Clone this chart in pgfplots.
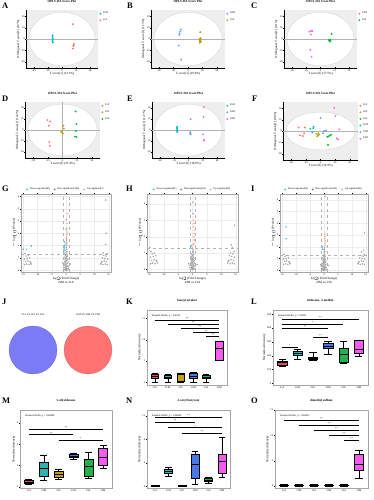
\documentclass[border=0pt]{standalone}
\usepackage{fontspec}
\setmainfont{Liberation Serif}
\usepackage{pgfplots}
\pgfplotsset{compat=1.18}
\usepgfplotslibrary{statistics}

\definecolor{cR}{HTML}{F8766D}
\definecolor{cG}{HTML}{B79F00}
\definecolor{cGr}{HTML}{00BA38}
\definecolor{cC}{HTML}{00BFC4}
\definecolor{cB}{HTML}{619CFF}
\definecolor{cM}{HTML}{F564E3}
\definecolor{bR}{HTML}{E34A5F}
\definecolor{bC}{HTML}{2CB3B0}
\definecolor{bG}{HTML}{C2A100}
\definecolor{bB}{HTML}{4A78E8}
\definecolor{bGr}{HTML}{22B24C}
\definecolor{bM}{HTML}{F45BEF}
\definecolor{vDown}{HTML}{4FB9E3}
\definecolor{vUp}{HTML}{F4A58A}
\definecolor{vB}{HTML}{7B7BF5}
\definecolor{vR}{HTML}{FF7373}

\newcommand{\tf}{\fontsize{2.6}{3}\selectfont}
\newcommand{\lf}{\fontsize{3.2}{3.8}\selectfont}
\newcommand{\pl}{\fontsize{8.5}{9}\selectfont\bfseries}

\pgfplotsset{
 every axis/.append style={scale only axis, anchor=north west,
   /pgf/number format/assume math mode=true,
   tick label style={font=\tf, inner sep=0.6pt},
   label style={font=\lf, inner sep=0.6pt},
   title style={font=\lf\bfseries, inner sep=1.2pt},
   tick align=outside, major tick length=1.2pt,
   every tick/.style={black, line width=0.25pt},
   line width=0.3pt},
 score/.style={xmin=-1.15,xmax=1.15,ymin=-1.15,ymax=1.15,
   axis background/.style={fill=gray!13},
   axis lines=left, axis line style={-, black},
   xtick={-0.9,-0.45,0,0.45,0.9}, ytick={-0.9,-0.45,0,0.45,0.9},
   title={OPLS-DA Score Plot},
   legend style={at={(1.02,1)}, anchor=north west, draw=none, fill=none, font=\tf, inner sep=0pt, row sep=-0.6pt},
   legend cell align=left},
 pts/.style={only marks, mark=*, mark size=0.75pt, color=#1},
 volc/.style={xmin=-15.8,xmax=15.8, ymin=-0.15,
   xtick={-15,-10,-5,0,5,10,15},
   grid=major, grid style={gray!15, line width=0.2pt},
   axis line style={gray!70},
   xlabel style={align=center},
   ylabel={$-\log_{10}$(P value)},
   legend columns=3,
   legend style={at={(0.5,1.01)}, anchor=south, draw=none, fill=none, font=\tf, inner sep=0pt,
     /tikz/every even column/.append style={column sep=2pt}}},
 vp/.style={only marks, mark=*, mark size=0.6pt, color=#1, forget plot},
 boxax/.style={xmin=0.4,xmax=6.6, xtick={1,...,6},
   xticklabels={21A,21M,22A,22M,23A,23M},
   xtick pos=bottom, ytick pos=left,
   axis line style={gray!70},
   ylabel={Normalized intensity},
   boxplot/draw direction=y,
   boxplot/every median/.style={line width=0.7pt}},
 bx/.style={draw=black, line width=0.3pt, fill=#1},
 sig/.style={black, line width=0.25pt},
}

\begin{document}
\begin{tikzpicture}[x=1bp,y=1bp]
\useasboundingbox (0,0) rectangle (373,-500);

% ---------------- Row 1 ----------------
\node[anchor=north west, font=\pl, inner sep=0pt] at (2,-3) {A};
\begin{axis}[score, at={(26bp,-10bp)}, width=72bp, height=58bp,
  xlabel={T score[1] (13.5\%)}, ylabel={Orthogonal T score[1] (8.7\%)},
  xticklabels={-40,-20,0,20,40}, yticklabels={-20,-10,0,10,20}]
\draw[gray!35, fill=white, line width=0.3pt] (axis cs:0,0) ellipse [x radius=1.06, y radius=1.06];
\draw[gray!60, line width=0.25pt] (axis cs:-1.15,0) -- (axis cs:1.15,0);
\addplot[pts=cC] coordinates {(-0.30,0.15)(-0.31,0.08)(-0.29,0.02)(-0.30,-0.04)(-0.31,-0.09)(-0.29,-0.14)};
\addlegendentry{21M}
\addplot[pts=cR] coordinates {(0.35,0.59)(0.38,-0.2)(0.36,-0.28)(0.35,-0.38)(0.37,-0.25)};
\addlegendentry{21A}
\end{axis}

\node[anchor=north west, font=\pl, inner sep=0pt] at (127,-3) {B};
\begin{axis}[score, at={(151bp,-10bp)}, width=74bp, height=58bp,
  xlabel={T score[1] (19.9\%)}, ylabel={Orthogonal T score[1] (11.3\%)},
  xticklabels={-60,-30,0,30,60}, yticklabels={-20,-10,0,10,20}]
\draw[gray!35, fill=white, line width=0.3pt] (axis cs:0,0) ellipse [x radius=1.06, y radius=1.06];
\draw[gray!60, line width=0.25pt] (axis cs:-1.15,0) -- (axis cs:1.15,0);
\addplot[pts=cB] coordinates {(-0.22,0.38)(-0.24,0.30)(-0.26,0.22)(-0.27,0.16)(-0.29,-0.26)(-0.21,-0.82)};
\addlegendentry{22M}
\addplot[pts=cG] coordinates {(0.38,0.27)(0.36,0)(0.38,-0.05)(0.40,-0.1)(0.37,-0.15)(0.39,0.03)(0.36,-0.08)};
\addlegendentry{22A}
\end{axis}

\node[anchor=north west, font=\pl, inner sep=0pt] at (251,-3) {C};
\begin{axis}[score, at={(284bp,-10bp)}, width=73bp, height=58bp,
  xlabel={T score[1] (17.5\%)}, ylabel={Orthogonal T score[1] (9.1\%)},
  xticklabels={-50,-25,0,25,50}, yticklabels={-20,-10,0,10,20}]
\draw[gray!35, fill=white, line width=0.3pt] (axis cs:0,0) ellipse [x radius=1.06, y radius=1.06];
\draw[gray!60, line width=0.25pt] (axis cs:-1.15,0) -- (axis cs:1.15,0);
\addplot[pts=cM] coordinates {(-0.35,0.29)(-0.26,0.31)(-0.30,0.32)(-0.30,0.17)(-0.32,-0.43)(-0.28,-0.71)};
\addlegendentry{23M}
\addplot[pts=cGr] coordinates {(0.35,0.2)(0.26,-0.04)(0.29,-0.1)(0.32,-0.08)(0.28,-0.06)(0.30,-0.02)};
\addlegendentry{23A}
\end{axis}

% ---------------- Row 2 ----------------
\node[anchor=north west, font=\pl, inner sep=0pt] at (2,-96) {D};
\begin{axis}[score, at={(25bp,-102bp)}, width=75bp, height=56bp,
  xlabel={T score[1] (21.4\%)}, ylabel={Orthogonal T score[1] (10.2\%)},
  xticklabels={-50,-25,0,25,50}, yticklabels={-30,-15,0,15,30}]
\draw[gray!35, fill=white, line width=0.3pt] (axis cs:0,0) ellipse [x radius=1.06, y radius=1.06];
\draw[gray!60, line width=0.25pt] (axis cs:-1.15,0) -- (axis cs:1.15,0);
\draw[gray!60, line width=0.25pt] (axis cs:0,-1.15) -- (axis cs:0,1.15);
\addplot[pts=cR] coordinates {(-0.46,0.41)(-0.38,0.35)(-0.42,0.18)(-0.4,-0.49)(-0.39,-0.65)};
\addlegendentry{21A}
\addplot[pts=cG] coordinates {(0.03,0.18)(0.04,0.06)(-0.02,-0.06)(0.01,-0.14)(-0.04,-0.09)};
\addlegendentry{22A}
\addplot[pts=cGr] coordinates {(0.4,0.76)(0.43,0.24)(0.41,-0.04)(0.38,-0.27)(0.43,-0.29)};
\addlegendentry{23A}
\end{axis}

\node[anchor=north west, font=\pl, inner sep=0pt] at (127,-96) {E};
\begin{axis}[score, at={(152bp,-102bp)}, width=73bp, height=56bp,
  xlabel={T score[1] (18.6\%)}, ylabel={Orthogonal T score[1] (12.7\%)},
  xticklabels={-60,-30,0,30,60}, yticklabels={-30,-15,0,15,30}]
\draw[gray!35, fill=white, line width=0.3pt] (axis cs:0,0) ellipse [x radius=1.06, y radius=1.06];
\draw[gray!60, line width=0.25pt] (axis cs:-1.15,0) -- (axis cs:1.15,0);
\addplot[pts=cC] coordinates {(-0.36,0.13)(-0.36,0.1)(-0.36,0.05)(-0.36,0)(-0.36,-0.05)(-0.35,-0.08)};
\addlegendentry{21M}
\addplot[pts=cB] coordinates {(0.07,0.45)(0.06,-0.09)(0.07,-0.18)(0.05,-0.13)};
\addlegendentry{22M}
\addplot[pts=cM] coordinates {(0.48,0.94)(0.47,0.53)(0.46,-0.18)(0.48,-0.41)(0.49,-0.44)};
\addlegendentry{23M}
\end{axis}

\node[anchor=north west, font=\pl, inner sep=0pt] at (252,-96) {F};
\begin{axis}[score, at={(283bp,-102bp)}, width=75bp, height=58bp,
  xlabel={T score[1] (14.9\%)}, ylabel={Orthogonal T score[1] (9.6\%)},
  xticklabels={-60,-30,0,30,60}, yticklabels={-30,-15,0,15,30}]
\draw[gray!35, fill=white, line width=0.3pt] (axis cs:0,0) ellipse [x radius=1.06, y radius=0.75];
\draw[gray!60, line width=0.25pt] (axis cs:-1.15,0) -- (axis cs:1.15,0);
\addplot[pts=cR] coordinates {(-0.67,0.14)(-0.48,0.14)(-0.5,-0.09)(-0.54,-0.2)(-0.63,-0.17)};
\addlegendentry{21A}
\addplot[pts=cG] coordinates {(-0.13,-0.11)(-0.08,-0.17)(-0.04,-0.14)(-0.1,-0.21)(-0.07,-0.09)};
\addlegendentry{22A}
\addplot[pts=cGr] coordinates {(0.21,-0.23)(0.25,-0.21)(0.29,-0.17)(0.33,-0.14)(0.23,-0.55)};
\addlegendentry{23A}
\addplot[pts=cC] coordinates {(-0.31,0.09)(-0.23,0.11)(-0.25,-0.06)(-0.21,0.17)};
\addlegendentry{21M}
\addplot[pts=cB] coordinates {(0.11,0)(0.17,0.02)(0.08,-0.09)(0,0.52)};
\addlegendentry{22M}
\addplot[pts=cM] coordinates {(0.42,0.92)(0.46,0.6)(0.58,0.06)(0.5,-0.29)(0.54,-0.34)};
\addlegendentry{23M}
\end{axis}

% ---------------- Row 3: volcano ----------------
\node[anchor=north west, font=\pl, inner sep=0pt] at (2,-186) {G};
\begin{axis}[volc, at={(21bp,-194bp)}, width=90bp, height=78bp, ymax=6.2, ytick={0,1,...,6},
  xlabel={log$_2$(Fold Change)\\21M vs 21A}]
\addlegendimage{only marks, mark=*, mark size=0.8pt, vDown}\addlegendentry{Down-regulated(8)}
\addlegendimage{only marks, mark=*, mark size=0.8pt, gray}\addlegendentry{Non-significant(596)}
\addlegendimage{only marks, mark=*, mark size=0.8pt, vUp}\addlegendentry{Up-regulated(7)}
\draw[gray!60, dashed, line width=0.25pt] (axis cs:-15.8,1.3) -- (axis cs:15.8,1.3);
\draw[gray!60, dashed, line width=0.25pt] (axis cs:-1,-0.15) -- (axis cs:-1,6.2);
\draw[gray!60, dashed, line width=0.25pt] (axis cs:1,-0.15) -- (axis cs:1,6.2);
\addplot[vp=gray!70] coordinates {(0.1,0.05)(-0.2,0.1)(0.3,0.15)(-0.4,0.2)(0.2,0.25)(-0.1,0.3)(0.5,0.35)(-0.3,0.4)(0.1,0.45)(-0.6,0.5)(0.4,0.55)(-0.2,0.6)(0.7,0.65)(-0.5,0.7)(0.0,0.75)(0.3,0.8)(-0.3,0.85)(0.6,0.9)(-0.1,0.95)(0.2,1.0)(-0.4,1.05)(0.1,1.1)(0.5,1.15)(-0.2,1.2)(0.3,1.3)(-0.5,1.35)(0.0,1.45)(0.4,1.5)(-0.3,1.6)(0.2,1.7)(0.1,1.85)(0.3,2.0)(0.0,2.2)(0.2,2.4)(0.1,2.6)(0.2,2.9)(0.0,3.3)(0.1,4.1)(0.8,0.3)(-0.8,0.4)(0.9,0.1)(-0.9,0.2)(1.5,0.5)(-1.2,0.6)(0.0,0.0)(0.4,0.02)(-0.5,0.05)
 (-14.5,0.45)(-13.8,0.5)(-13.0,0.45)(-12.2,0.5)(-14.2,0.7)(-13.4,0.75)(-12.6,0.7)(-14.6,0.9)(-13.6,0.95)(-12.8,1.0)(-14.0,1.15)(-13.2,1.2)(-14.4,1.35)(-12.4,0.6)(-15,1.7)
 (14.5,0.45)(13.8,0.5)(13.0,0.45)(12.2,0.5)(14.2,0.7)(13.4,0.75)(12.6,0.7)(14.6,0.9)(13.6,0.95)(12.8,1.0)(14.0,1.15)(13.2,1.2)(14.4,1.35)(12.4,0.6)(13.9,5.7)(14.1,3.0)(13.9,2.1)(13,1.4)};
\addplot[vp=vDown] coordinates {(-12.2,1.97)(-13.9,1.7)(-0.6,1.8)(-0.7,1.65)(-0.8,1.55)(-0.4,2.05)(-0.5,2.3)(-0.6,1.95)};
\addplot[vp=vUp] coordinates {(0.3,3.4)(0.5,3.1)(0.3,2.7)(0.4,3.8)(0.2,2.5)(0.5,4.6)(0.3,2.2)};
\end{axis}

\node[anchor=north west, font=\pl, inner sep=0pt] at (126,-186) {H};
\begin{axis}[volc, at={(147bp,-194bp)}, width=91bp, height=78bp, ymax=4.6, ytick={0,1,...,4},
  xlabel={log$_2$(Fold Change)\\22M vs 22A}]
\addlegendimage{only marks, mark=*, mark size=0.8pt, vDown}\addlegendentry{Down-regulated(2)}
\addlegendimage{only marks, mark=*, mark size=0.8pt, gray}\addlegendentry{Non-significant(601)}
\addlegendimage{only marks, mark=*, mark size=0.8pt, vUp}\addlegendentry{Up-regulated(9)}
\draw[gray!60, dashed, line width=0.25pt] (axis cs:-15.8,1.3) -- (axis cs:15.8,1.3);
\draw[gray!60, dashed, line width=0.25pt] (axis cs:-1,-0.15) -- (axis cs:-1,4.6);
\draw[gray!60, dashed, line width=0.25pt] (axis cs:1,-0.15) -- (axis cs:1,4.6);
\addplot[vp=gray!70] coordinates {(0.1,0.03)(-0.2,0.06)(0.3,0.09)(-0.4,0.12)(0.2,0.15)(-0.1,0.18)(0.5,0.21)(-0.3,0.24)(0.1,0.27)(-0.6,0.3)(0.4,0.33)(-0.2,0.36)(0.7,0.39)(-0.5,0.42)(0.0,0.45)(0.3,0.48)(-0.3,0.51)(0.6,0.54)(-0.1,0.57)(0.2,0.6)(-0.4,0.63)(0.1,0.66)(0.5,0.69)(-0.2,0.72)(0.3,0.78)(-0.5,0.81)(0.0,0.87)(0.4,0.9)(-0.3,0.96)(0.2,1.02)(0.1,1.1)(0.3,1.2)(0.0,1.3)(0.8,0.2)(-0.8,0.25)(0.9,0.06)(-0.9,0.12)(1.6,0.3)(-1.3,0.35)(0.0,0.0)(0.4,0.01)(-0.5,0.03)(0.2,4.1)(0.2,3.4)
 (-14.5,0.35)(-13.8,0.4)(-13.0,0.35)(-12.2,0.4)(-14.2,0.55)(-13.4,0.6)(-12.6,0.55)(-14.6,0.75)(-13.6,0.8)(-12.8,0.85)(-14.0,0.95)(-13.2,1.0)(-14.4,1.1)(-12.4,0.5)(-14.8,1.35)
 (14.5,0.35)(13.8,0.4)(13.0,0.35)(12.2,0.4)(14.2,0.55)(13.4,0.6)(12.6,0.55)(14.6,0.75)(13.6,0.8)(12.8,0.85)(14.0,0.95)(13.2,1.0)(14.4,1.1)(12.4,0.5)(14.6,2.7)(13.5,1.5)(13.8,1.35)};
\addplot[vp=vDown] coordinates {(-0.4,1.45)(-0.6,1.38)};
\addplot[vp=vUp] coordinates {(0.4,3.0)(0.5,2.8)(0.4,2.6)(0.6,2.4)(0.5,2.2)(0.4,2.0)(0.6,1.8)(0.5,1.6)(0.3,1.5)};
\end{axis}

\node[anchor=north west, font=\pl, inner sep=0pt] at (251,-186) {I};
\begin{axis}[volc, at={(280bp,-194bp)}, width=88bp, height=78bp, ymax=6.5, ytick={0,1,...,6},
  xlabel={log$_2$(Fold Change)\\23M vs 23A}]
\addlegendimage{only marks, mark=*, mark size=0.8pt, vDown}\addlegendentry{Down-regulated(4)}
\addlegendimage{only marks, mark=*, mark size=0.8pt, gray}\addlegendentry{Non-significant(601)}
\addlegendimage{only marks, mark=*, mark size=0.8pt, vUp}\addlegendentry{Up-regulated(6)}
\draw[gray!60, dashed, line width=0.25pt] (axis cs:-15.8,1.3) -- (axis cs:15.8,1.3);
\draw[gray!60, dashed, line width=0.25pt] (axis cs:-1,-0.15) -- (axis cs:-1,6.5);
\draw[gray!60, dashed, line width=0.25pt] (axis cs:1,-0.15) -- (axis cs:1,6.5);
\addplot[vp=gray!70] coordinates {(0.1,0.04)(-0.2,0.08)(0.3,0.12)(-0.4,0.16)(0.2,0.2)(-0.1,0.24)(0.5,0.28)(-0.3,0.32)(0.1,0.36)(-0.6,0.4)(0.4,0.44)(-0.2,0.48)(0.7,0.52)(-0.5,0.56)(0.0,0.6)(0.3,0.64)(-0.3,0.68)(0.6,0.72)(-0.1,0.76)(0.2,0.8)(-0.4,0.84)(0.1,0.88)(0.5,0.92)(-0.2,0.96)(0.3,1.04)(-0.5,1.08)(0.0,1.16)(0.4,1.2)(-0.3,1.28)(0.2,1.36)(0.1,1.5)(0.3,1.6)(0.0,1.75)(0.2,1.9)(0.8,0.25)(-0.8,0.3)(0.9,0.08)(-0.9,0.16)(1.5,0.4)(-1.2,0.45)(0.0,0.0)(0.4,0.02)(-0.5,0.04)(0.4,6.3)
 (-14.5,0.5)(-13.8,0.55)(-13.0,0.5)(-12.2,0.55)(-14.2,0.75)(-13.4,0.8)(-12.6,0.75)(-14.6,0.95)(-13.6,1.0)(-12.8,1.05)(-14.0,1.2)(-13.2,1.25)(-14.4,1.35)(-12.4,0.65)
 (14.5,0.5)(13.8,0.55)(13.0,0.5)(12.2,0.55)(14.2,0.75)(13.4,0.8)(12.6,0.75)(14.6,0.95)(13.6,1.0)(12.8,1.05)(14.0,1.2)(13.2,1.25)(14.4,1.35)(12.4,0.65)(14.5,3.2)(14.2,1.7)(13.5,1.55)};
\addplot[vp=vDown] coordinates {(-13.7,3.7)(-13.6,2.7)(-0.6,2.0)(-0.5,1.8)};
\addplot[vp=vUp] coordinates {(0.3,3.1)(0.4,2.9)(0.3,2.7)(0.5,2.5)(0.4,2.3)(0.3,2.1)};
\end{axis}

% ---------------- Row 4 ----------------
\node[anchor=north west, font=\pl, inner sep=0pt] at (2,-299) {J};
\begin{axis}[at={(5bp,-320bp)}, width=115bp, height=55bp, xmin=0,xmax=115,ymin=0,ymax=55, axis lines=none, clip=false]
\addplot[only marks, mark=*, mark size=24bp, color=vB, mark options={fill=vB, draw=vB!80!black, line width=0.2pt}] coordinates {(28,25)};
\addplot[only marks, mark=*, mark size=24bp, color=vR, mark options={fill=vR, draw=vR!80!black, line width=0.2pt}] coordinates {(83,25)};
\node[font=\tf] at (axis cs:28,60) {21A VS 22A VS 23A};
\node[font=\tf] at (axis cs:83,60) {21M VS 22M VS 23M};
\node[font=\tf] at (axis cs:28,25) {21};
\node[font=\tf] at (axis cs:83,25) {18};
\end{axis}

\node[anchor=north west, font=\pl, inner sep=0pt] at (126,-299) {K};
\begin{axis}[boxax, at={(147bp,-310bp)}, width=80bp, height=75bp, ymin=-0.6, ymax=17, ytick={0,5,10,15},
  title={benzyl alcohol}]
\addplot[bx=bR, boxplot prepared={draw position=1, box extend=0.6, median=1.5, lower quartile=1.0, upper quartile=1.9, lower whisker=0, upper whisker=2.3}] coordinates {};
\addplot[bx=bC, boxplot prepared={draw position=2, box extend=0.6, median=1.2, lower quartile=0.9, upper quartile=1.6, lower whisker=0, upper whisker=2.0}] coordinates {};
\addplot[bx=bG, boxplot prepared={draw position=3, box extend=0.6, median=1.9, lower quartile=0.2, upper quartile=2.2, lower whisker=0, upper whisker=2.3}] coordinates {};
\addplot[bx=bB, boxplot prepared={draw position=4, box extend=0.6, median=1.5, lower quartile=1.0, upper quartile=2.3, lower whisker=0, upper whisker=2.4}] coordinates {};
\addplot[bx=bGr, boxplot prepared={draw position=5, box extend=0.6, median=1.2, lower quartile=0.9, upper quartile=1.6, lower whisker=0, upper whisker=1.9}] coordinates {};
\addplot[bx=bM, boxplot prepared={draw position=6, box extend=0.6, median=8.0, lower quartile=5.3, upper quartile=9.6, lower whisker=5.2, upper whisker=9.8}] coordinates {};
\addplot[sig] coordinates {(1,14.7)(6,14.7)} node[pos=0.5, above, inner sep=0.3pt, font=\tf] {**};
\addplot[sig] coordinates {(2,13.7)(6,13.7)} node[pos=0.5, above, inner sep=0.3pt, font=\tf] {**};
\addplot[sig] coordinates {(3,12.7)(6,12.7)} node[pos=0.5, above, inner sep=0.3pt, font=\tf] {**};
\addplot[sig] coordinates {(4,11.7)(6,11.7)} node[pos=0.5, above, inner sep=0.3pt, font=\tf] {**};
\addplot[sig] coordinates {(5,10.9)(6,10.9)} node[pos=0.5, above, inner sep=0.3pt, font=\tf] {**};
\node[anchor=north west, font=\tf] at (rel axis cs:0.02,0.99) {Kruskal-Wallis, p = 0.0013};
\end{axis}

\node[anchor=north west, font=\pl, inner sep=0pt] at (251,-299) {L};
\begin{axis}[boxax, at={(273bp,-310bp)}, width=95bp, height=75bp, ymin=-12, ymax=530, ytick={0,100,...,500},
  title={tridecane, 3-methyl-}]
\addplot[bx=bR, boxplot prepared={draw position=1, box extend=0.6, median=149, lower quartile=135, upper quartile=162, lower whisker=123, upper whisker=174}] coordinates {};
\addplot[bx=bC, boxplot prepared={draw position=2, box extend=0.6, median=220, lower quartile=205, upper quartile=233, lower whisker=174, upper whisker=244}] coordinates {};
\addplot[bx=bG, boxplot prepared={draw position=3, box extend=0.6, median=182, lower quartile=174, upper quartile=192, lower whisker=170, upper whisker=226}] coordinates {};
\addplot[bx=bB, boxplot prepared={draw position=4, box extend=0.6, median=269, lower quartile=251, upper quartile=290, lower whisker=213, upper whisker=303}] coordinates {};
\addplot[bx=bGr, boxplot prepared={draw position=5, box extend=0.6, median=208, lower quartile=154, upper quartile=251, lower whisker=149, upper whisker=303}] coordinates {};
\addplot[bx=bM, boxplot prepared={draw position=6, box extend=0.6, median=244, lower quartile=221, upper quartile=310, lower whisker=200, upper whisker=315}] coordinates {};
\addplot[sig] coordinates {(1,464)(6,464)} node[pos=0.5, above, inner sep=0.3pt, font=\tf] {**};
\addplot[sig] coordinates {(1,431)(5,431)} node[pos=0.5, above, inner sep=0.3pt, font=\tf] {*};
\addplot[sig] coordinates {(1,397)(4,397)} node[pos=0.5, above, inner sep=0.3pt, font=\tf] {**};
\addplot[sig] coordinates {(3,336)(4,336)} node[pos=0.5, above, inner sep=0.3pt, font=\tf] {**};
\addplot[sig] coordinates {(1,264)(2,264)} node[pos=0.5, above, inner sep=0.3pt, font=\tf] {*};
\node[anchor=north west, font=\tf] at (rel axis cs:0.02,0.99) {Kruskal-Wallis, p = 0.0021};
\end{axis}

% ---------------- Row 5 ----------------
\node[anchor=north west, font=\pl, inner sep=0pt] at (2,-398) {M};
\begin{axis}[boxax, at={(20bp,-410bp)}, width=92bp, height=78bp, ymin=-0.1, ymax=7.2, ytick={0,2,4,6},
  title={5-ethyldecane}]
\addplot[bx=bR, boxplot prepared={draw position=1, box extend=0.6, median=0.45, lower quartile=0.35, upper quartile=0.6, lower whisker=0.25, upper whisker=0.7}] coordinates {};
\addplot[bx=bC, boxplot prepared={draw position=2, box extend=0.6, median=1.7, lower quartile=1.0, upper quartile=2.3, lower whisker=0.6, upper whisker=3.0}] coordinates {};
\addplot[bx=bG, boxplot prepared={draw position=3, box extend=0.6, median=1.2, lower quartile=0.9, upper quartile=1.5, lower whisker=0.7, upper whisker=1.7}] coordinates {};
\addplot[bx=bB, boxplot prepared={draw position=4, box extend=0.6, median=2.9, lower quartile=2.75, upper quartile=3.1, lower whisker=2.6, upper whisker=3.2}] coordinates {};
\addplot[bx=bGr, boxplot prepared={draw position=5, box extend=0.6, median=1.9, lower quartile=1.0, upper quartile=2.6, lower whisker=0.8, upper whisker=3.3}] coordinates {};
\addplot[bx=bM, boxplot prepared={draw position=6, box extend=0.6, median=2.8, lower quartile=2.0, upper quartile=3.6, lower whisker=1.8, upper whisker=3.9}] coordinates {};
\addplot[sig] coordinates {(1,5.4)(6,5.4)} node[pos=0.5, above, inner sep=0.3pt, font=\tf] {**};
\addplot[sig] coordinates {(1,4.9)(4,4.9)} node[pos=0.5, above, inner sep=0.3pt, font=\tf] {**};
\addplot[sig] coordinates {(3,4.4)(6,4.4)} node[pos=0.5, above, inner sep=0.3pt, font=\tf] {*};
\node[anchor=north west, font=\tf] at (rel axis cs:0.02,0.99) {Kruskal-Wallis, p = 0.00082};
\end{axis}

\node[anchor=north west, font=\pl, inner sep=0pt] at (126,-398) {N};
\begin{axis}[boxax, at={(147bp,-410bp)}, width=83bp, height=78bp, ymin=-0.3, ymax=13, ytick={0,4,8,12},
  title={2-octyl butyrate}]
\addplot[bx=bR, boxplot prepared={draw position=1, box extend=0.6, median=0.1, lower quartile=0.05, upper quartile=0.15, lower whisker=0, upper whisker=0.2}] coordinates {};
\addplot[bx=bC, boxplot prepared={draw position=2, box extend=0.6, median=2.6, lower quartile=2.2, upper quartile=3.0, lower whisker=1.8, upper whisker=3.2}] coordinates {};
\addplot[bx=bG, boxplot prepared={draw position=3, box extend=0.6, median=0.1, lower quartile=0.05, upper quartile=0.15, lower whisker=0, upper whisker=0.2}] coordinates {};
\addplot[bx=bB, boxplot prepared={draw position=4, box extend=0.6, median=3.7, lower quartile=1.3, upper quartile=5.5, lower whisker=0.4, upper whisker=6.0}] coordinates {};
\addplot[bx=bGr, boxplot prepared={draw position=5, box extend=0.6, median=1.0, lower quartile=0.8, upper quartile=1.4, lower whisker=0.6, upper whisker=1.6}] coordinates {};
\addplot[bx=bM, boxplot prepared={draw position=6, box extend=0.6, median=4.3, lower quartile=2.2, upper quartile=5.5, lower whisker=1.5, upper whisker=8.3}] coordinates {};
\addplot[sig] coordinates {(1,11.8)(6,11.8)} node[pos=0.5, above, inner sep=0.3pt, font=\tf] {**};
\addplot[sig] coordinates {(1,10.9)(4,10.9)} node[pos=0.5, above, inner sep=0.3pt, font=\tf] {**};
\addplot[sig] coordinates {(2,10.0)(6,10.0)} node[pos=0.5, above, inner sep=0.3pt, font=\tf] {*};
\addplot[sig] coordinates {(3,9.1)(6,9.1)} node[pos=0.5, above, inner sep=0.3pt, font=\tf] {**};
\node[anchor=north west, font=\tf] at (rel axis cs:0.02,0.99) {Kruskal-Wallis, p = 0.00049};
\end{axis}

\node[anchor=north west, font=\pl, inner sep=0pt] at (251,-398) {O};
\begin{axis}[boxax, at={(275bp,-410bp)}, width=93bp, height=78bp, ymin=-0.4, ymax=15, ytick={0,5,10,15},
  title={dimethyl sulfone}]
\addplot[bx=bR, boxplot prepared={draw position=1, box extend=0.6, median=0.15, lower quartile=0.1, upper quartile=0.2, lower whisker=0, upper whisker=0.3}] coordinates {};
\addplot[bx=bC, boxplot prepared={draw position=2, box extend=0.6, median=0.15, lower quartile=0.1, upper quartile=0.2, lower whisker=0, upper whisker=0.3}] coordinates {};
\addplot[bx=bG, boxplot prepared={draw position=3, box extend=0.6, median=0.15, lower quartile=0.1, upper quartile=0.2, lower whisker=0, upper whisker=0.3}] coordinates {};
\addplot[bx=bB, boxplot prepared={draw position=4, box extend=0.6, median=0.15, lower quartile=0.1, upper quartile=0.2, lower whisker=0, upper whisker=0.3}] coordinates {};
\addplot[bx=bGr, boxplot prepared={draw position=5, box extend=0.6, median=0.15, lower quartile=0.1, upper quartile=0.2, lower whisker=0, upper whisker=0.3}] coordinates {};
\addplot[bx=bM, boxplot prepared={draw position=6, box extend=0.6, median=4.3, lower quartile=3.1, upper quartile=6.3, lower whisker=1.5, upper whisker=7.0}] coordinates {};
\addplot[sig] coordinates {(1,13.0)(6,13.0)} node[pos=0.5, above, inner sep=0.3pt, font=\tf] {**};
\addplot[sig] coordinates {(2,12.0)(6,12.0)} node[pos=0.5, above, inner sep=0.3pt, font=\tf] {**};
\addplot[sig] coordinates {(3,11.0)(6,11.0)} node[pos=0.5, above, inner sep=0.3pt, font=\tf] {**};
\addplot[sig] coordinates {(4,10.0)(6,10.0)} node[pos=0.5, above, inner sep=0.3pt, font=\tf] {**};
\addplot[sig] coordinates {(5,9.0)(6,9.0)} node[pos=0.5, above, inner sep=0.3pt, font=\tf] {**};
\node[anchor=north west, font=\tf] at (rel axis cs:0.02,0.99) {Kruskal-Wallis, p = 0.00031};
\end{axis}

\end{tikzpicture}
\end{document}
